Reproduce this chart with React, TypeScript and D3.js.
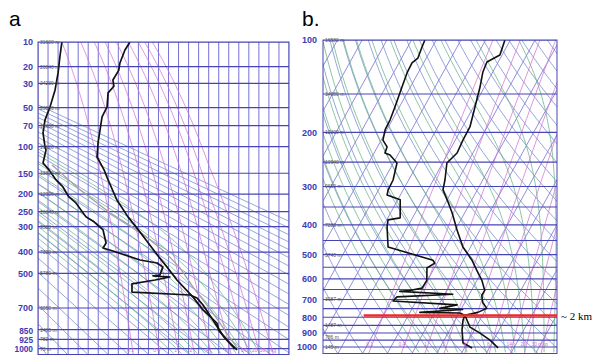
import React from "react";
import * as d3 from "d3";

const W = 597;
const H = 360;

// ---------- panel a : Stüve diagram 10–1000 hPa ----------
const levelsA = [10, 20, 30, 50, 70, 100, 150, 200, 250, 300, 400, 500, 700, 850, 925, 1000];
const heightsA = ["31600 m", "26840 m", "24230 m", "20580 m", "18630 m", "16620 m", "13820 m", "12020 m",
  "10640 m", "9380 m", "7320 m", "5780 m", "3050 m", "1480 m", "782 m", "73 m"];

// [pressure hPa, temperature °C]
const tempA = [[10, -39.2], [12.7, -41.7], [18.2, -44.2], [22, -44.8], [27.7, -47.7], [32, -47.2], [37, -50.1],
  [49.3, -50.6], [59.8, -53.1], [75.6, -54.1], [94.3, -55.1], [117.8, -55.6], [143, -52.1], [165, -50.1],
  [216, -45.7], [267, -40.2], [301, -36.2], [350, -31.2], [422, -24.8], [468, -20.8], [535, -15.8],
  [632, -7.8], [713, -2.8], [802, 4.1], [860, 5.2], [930, 9.1], [1011, 14.1]];
const dewA = [[10, -73.1], [15.5, -74.1], [23.4, -75.0], [34.7, -76.5], [49.3, -79.0], [63.2, -81.5],
  [79.7, -82.5], [100.6, -81.5], [105.5, -81], [129, -82.5], [143, -79.5], [165, -76], [181.7, -72.6],
  [207.6, -69.6], [224.3, -66.1], [267, -61.1], [283.5, -57.1], [312, -52.6], [362, -51.1], [382.5, -52.6],
  [395.5, -47.7], [435.4, -34.2], [449.4, -25.7], [468, -22.8], [508.7, -24.3], [513, -27.7], [519, -19.3],
  [535, -26.7], [556, -38.2], [602, -38.2], [619.5, -9.3], [637, -5.8], [681, -2.8], [781, 2.1],
  [906, 7.6], [1003, 13.1]];
const parcelA = [[133, -78], [189, -64.1], [254, -49.2], [319, -34.2], [400, -21.8], [473, -14.3],
  [590, -6.8], [681, -0.8], [781, 4.6], [890, 9.6], [1003, 14.6]];

// ---------- panel b : skew-T 100–1000 hPa ----------
const levelsB = [100, 200, 300, 400, 500, 600, 700, 800, 900, 1000];
const heightLevelsB = [100, 150, 200, 250, 300, 400, 500, 700, 850, 925, 1000];
const heightsB = ["16580 m", "14080 m", "12300 m", "10940 m", "9650 m", "7280 m", "5740 m", "3087 m",
  "1487 m", "786 m", "145 m"];
const tempB = [[100, -52.2], [111.9, -50.9], [117.9, -54.6], [127.1, -54.0], [142.3, -51.8], [165.3, -49.4],
  [192, -47.0], [211.9, -46.9], [233.4, -46.4], [251.6, -48.3], [285.8, -45.3], [307.7, -43.9],
  [331.6, -40.0], [365.5, -35.1], [415.6, -29.3], [472.6, -23.1], [521.5, -16.5], [562.5, -12.3],
  [606.6, -8.0], [654.4, -4.6], [679.5, -4.7], [716.3, -2.7], [748.5, 0.2], [771.4, -2.5], [788.2, -7.1],
  [861.6, -2.4], [900.8, 3.0], [950.3, 8.6], [1007, 13.6]];
const dewB = [[100, -84.6], [105.4, -84.2], [114.5, -83.4], [118.8, -84.7], [128, -84.5], [142.3, -83.4],
  [165.3, -81.8], [182, -80.9], [196, -80.7], [211.9, -79.3], [223, -76.1], [233.4, -75.6], [237, -73.1],
  [251.6, -68.5], [285.8, -66.3], [307.7, -66.1], [319.6, -65.4], [331.6, -59.0], [379.6, -55.0],
  [385.3, -59.5], [406.2, -58.3], [472.6, -53.4], [521.5, -32.3], [533, -30.9], [553, -33.0],
  [606.6, -30.3], [643, -30.5], [654.4, -35.0], [659, -38.8], [673, -16.7], [686.8, -38.7], [708, -39.4],
  [729, -12.6], [748.5, -18.8], [755, -9.3], [771.4, -26.0], [775, -9.8], [788.2, -7.1], [817, -6.8],
  [880, -5.0], [970, -1.7], [1007, 3.1]];
const layerTopB = 790; // ~2 km mark

const mixRatios = [0.1, 0.4, 1, 2, 4, 8, 14, 20, 30];
const mixLabels = ["0.1", "0.4", "1", "2", "4", "8", "14", "20", "30 g/kg"];

// ---------- thermodynamics for the background lines ----------
const KAPPA = 0.286;
function dewFromE(e: number) {
  const l = Math.log(e / 6.112);
  return e < 6.112 ? (272.62 * l) / (22.46 - l) : (243.5 * l) / (17.67 - l);
}
function dTdp(p: number, T: number) {
  const tc = T - 273.15;
  const es = 6.112 * Math.exp((17.67 * tc) / (tc + 243.5));
  const rs = (0.622 * es) / Math.max(p - es, 1);
  const Lv = 2.5e6;
  return (287 * T + Lv * rs) / (p * (1005 + (Lv * Lv * rs * 0.622) / (287 * T * T)));
}
function moistLine(t0: number, pTop: number, pBot: number) {
  const up: number[][] = [];
  let T = t0 + 273.15;
  for (let p = 1000; p >= pTop; p *= 0.99) {
    up.push([p, T - 273.15]);
    T -= dTdp(p, T) * p * 0.01;
  }
  const down: number[][] = [];
  T = t0 + 273.15;
  for (let p = 1000; p <= pBot; p *= 1.01) {
    down.push([p, T - 273.15]);
    T += dTdp(p, T) * p * 0.01;
  }
  return up.reverse().concat(down.slice(1));
}
const pSamples = (top: number, bot: number) =>
  d3.range(0, 121).map((i) => top * Math.pow(bot / top, i / 120));
const dryLine = (theta: number, top: number, bot: number) =>
  pSamples(top, bot).map((p) => [p, theta * Math.pow(p / 1000, KAPPA) - 273.15]);
const mixLine = (w: number, top: number, bot: number) =>
  pSamples(top, bot).map((p) => [p, dewFromE((w * p) / (622 + w))]);

const C = {
  iso: "#7770d8",
  level: "#4645b4",
  dry: "#7088cc",
  moist: "#62b07c",
  mix: "#d470d4",
  axis: "#3c3cb4",
};

export default function App() {
  // panel a scales
  const xA = d3.scaleLinear().domain([-85, 40]).range([38, 289]);
  const yA = d3.scalePow().exponent(KAPPA).domain([10, 1050]).range([42, 354.5]);
  const lineA = d3.line<number[]>().x((d) => xA(d[1])).y((d) => yA(d[0]));

  // panel b scales (skewed)
  const yB = d3.scaleLog().domain([100, 1050]).range([40, 353.5]);
  const tB = d3.scaleLinear().domain([-40, 30]).range([366.2, 539.1]);
  const SKEW = 0.55;
  const xB = (T: number, p: number) => tB(T) + SKEW * (yB(1000) - yB(p));
  const lineB = d3.line<number[]>().x((d) => xB(d[1], d[0])).y((d) => yB(d[0]));
  const [bx0, bx1] = [323, 557];

  const isoA = d3.range(-85, 41, 5);
  const dryA = d3.range(190, 451, 10).map((th) => dryLine(th, 10, 1050));
  const moistA = d3.range(-20, 25, 4).map((t) => moistLine(t, 10, 1050));
  const mixA = mixRatios.map((w) => mixLine(w, 10, 1050));

  const isoB = d3.range(-130, 41, 10);
  const dryB = d3.range(210, 471, 10).map((th) => dryLine(th, 100, 1050));
  const moistB = d3.range(-20, 37, 4).map((t) => moistLine(t, 100, 1050));
  const mixB = mixRatios.map((w) => mixLine(w, 100, 1050));
  const levelLinesB = d3.range(100, 1051, 50);

  const axisFont = { fontFamily: "Liberation Sans, Arial, sans-serif", fontWeight: 700, fontSize: 9 };
  const smallFont = "Liberation Sans, Arial, sans-serif";

  return (
    <svg width={W} height={H} style={{ position: "absolute", left: 0, top: 0, background: "#fff" }}>
      <defs>
        <clipPath id="clipA"><rect x={38} y={42} width={251} height={312.5} /></clipPath>
        <clipPath id="clipB"><rect x={bx0} y={40} width={bx1 - bx0} height={313.5} /></clipPath>
      </defs>

      {/* ---------- panel a ---------- */}
      <text x={9} y={26} fontSize={21} fontFamily={smallFont}>a</text>
      <g clipPath="url(#clipA)" fill="none">
        {isoA.map((t) => (
          <line key={t} x1={xA(t)} x2={xA(t)} y1={42} y2={355} stroke={C.iso} strokeWidth={1} />
        ))}
        {dryA.map((d, i) => <path key={"d" + i} d={lineA(d)!} stroke={C.dry} strokeWidth={0.75} />)}
        {moistA.map((d, i) => <path key={"m" + i} d={lineA(d)!} stroke={C.moist} strokeWidth={0.75} />)}
        {mixA.map((d, i) => <path key={"w" + i} d={lineA(d)!} stroke={C.mix} strokeWidth={0.75} />)}
        {levelsA.map((p) => (
          <line key={p} x1={38} x2={289} y1={yA(p)} y2={yA(p)} stroke={C.level} strokeWidth={1.2} />
        ))}
        <path d={lineA(parcelA)!} stroke="#a0a0a0" strokeWidth={1.3} />
        <path d={lineA(dewA)!} stroke="#111" strokeWidth={1.7} strokeLinejoin="round" />
        <path d={lineA(tempA)!} stroke="#111" strokeWidth={1.7} strokeLinejoin="round" />
      </g>
      <rect x={38} y={42} width={251} height={312.5} fill="none" stroke={C.level} strokeWidth={1} />
      {levelsA.map((p, i) => (
        <text key={"h" + p} x={40} y={yA(p) + 2} fontSize={5} fill="#555" fontFamily={smallFont}>
          {heightsA[i]}
        </text>
      ))}
      {levelsA.map((p) => (
        <text key={"l" + p} x={33} y={yA(p) + (p === 850 ? 4.5 : p === 1000 ? 3 : 3.3)} textAnchor="end"
          fill={C.axis} style={p >= 850 ? { ...axisFont, fontSize: 8.3 } : axisFont}>{p}</text>
      ))}
      {mixRatios.map((w, i) => (
        <text key={"wl" + w} x={xA(mixA[i][116][1])} y={352} fontSize={5} fill={C.mix}
          fontFamily={smallFont} textAnchor="middle">{mixLabels[i]}</text>
      ))}

      {/* ---------- panel b ---------- */}
      <text x={302} y={26} fontSize={21} fontFamily={smallFont}>b.</text>
      <g clipPath="url(#clipB)" fill="none">
        {isoB.map((t) => (
          <line key={t} x1={xB(t, 1050)} x2={xB(t, 100)} y1={yB(1050)} y2={yB(100)} stroke={C.iso} strokeWidth={0.8} />
        ))}
        {dryB.map((d, i) => <path key={"d" + i} d={lineB(d)!} stroke={C.dry} strokeWidth={0.75} />)}
        {moistB.map((d, i) => <path key={"m" + i} d={lineB(d)!} stroke={C.moist} strokeWidth={0.75} />)}
        {mixB.map((d, i) => <path key={"w" + i} d={lineB(d)!} stroke={C.mix} strokeWidth={0.75} />)}
        {levelLinesB.map((p) => (
          <line key={p} x1={bx0} x2={bx1} y1={yB(p)} y2={yB(p)} stroke={C.level} strokeWidth={1.1} />
        ))}
        <path d={lineB(dewB)!} stroke="#111" strokeWidth={1.6} strokeLinejoin="round" />
        <path d={lineB(tempB)!} stroke="#111" strokeWidth={1.6} strokeLinejoin="round" />
      </g>
      <rect x={bx0} y={40} width={bx1 - bx0} height={313.5} fill="none" stroke={C.level} strokeWidth={1} />
      {heightLevelsB.map((p, i) => (
        <text key={"h" + p} x={325} y={yB(p) + 2} fontSize={5} fill="#555" fontFamily={smallFont}>
          {heightsB[i]}
        </text>
      ))}
      {levelsB.map((p) => (
        <text key={"l" + p} x={317} y={yB(p) + 3.3} textAnchor="end" fill={C.axis} style={axisFont}>{p}</text>
      ))}
      {mixRatios.map((w, i) => (
        <text key={"wl" + w} x={xB(mixB[i][114][1], 1000)} y={346} fontSize={5} fill={C.mix}
          fontFamily={smallFont} textAnchor="middle">{mixLabels[i]}</text>
      ))}
      <line x1={xB(-48, layerTopB)} x2={bx1} y1={yB(layerTopB)} y2={yB(layerTopB)} stroke="#ee2a2a" strokeWidth={2.6} />
      <text x={561} y={320} fontSize={11} fontFamily="Liberation Serif, Times New Roman, serif">~ 2 km</text>
    </svg>
  );
}
